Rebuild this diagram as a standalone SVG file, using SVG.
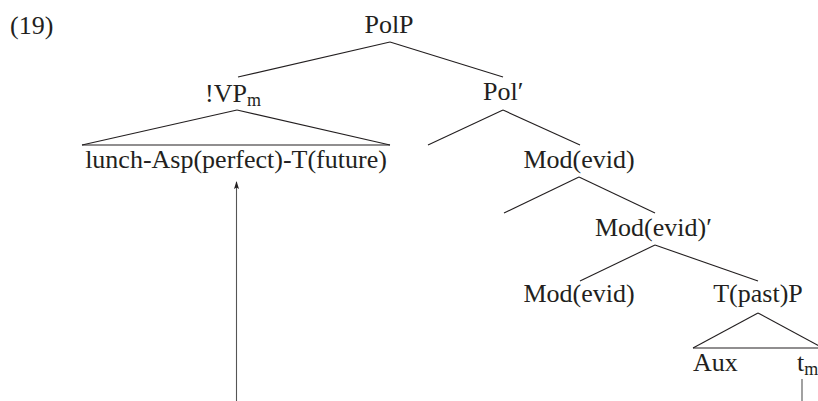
<svg xmlns="http://www.w3.org/2000/svg" width="818" height="401" viewBox="0 0 818 401">
<defs>
<style>
text{font-family:"Liberation Serif","Times New Roman",serif;font-size:26px;fill:#231f20}
.m{text-anchor:middle}
.sub{font-size:18px}
line{stroke:#231f20;stroke-width:1.1;fill:none}
</style>
<marker id="ah" viewBox="0 0 8 5" refX="7" refY="2.5" markerWidth="8" markerHeight="5" markerUnits="userSpaceOnUse" orient="auto">
<path d="M0,0 L8,2.5 L0,5 L1.5,2.5 Z" fill="#231f20"/>
</marker>
</defs>
<rect width="818" height="401" fill="#fff"/>
<text x="10" y="34">(19)</text>
<g id="connectors">
<line x1="390" y1="42" x2="238" y2="77"/>
<line x1="390" y1="42" x2="503" y2="77"/>
<line x1="237" y1="110" x2="82" y2="145"/>
<line x1="237" y1="110" x2="390" y2="145"/>
<line x1="82" y1="145" x2="390" y2="145"/>
<line x1="503" y1="110" x2="428" y2="145"/>
<line x1="503" y1="110" x2="580" y2="145"/>
<line x1="579" y1="177" x2="504" y2="213"/>
<line x1="579" y1="177" x2="655" y2="213"/>
<line x1="655" y1="245" x2="580" y2="281"/>
<line x1="655" y1="245" x2="758" y2="281"/>
<line x1="758" y1="313" x2="693" y2="348"/>
<line x1="758" y1="313" x2="823" y2="348"/>
<line x1="693" y1="348" x2="823" y2="348"/>
<line x1="802" y1="379" x2="802" y2="401" style="stroke:#555"/>
<line x1="236.5" y1="401" x2="236.5" y2="182" style="stroke:#555" marker-end="url(#ah)"/>
</g>
<g id="PolP"><text class="m" x="389" y="33">PolP</text></g>
<g id="VPm"><text x="205" y="102">!VP<tspan class="sub" dy="4">m</tspan></text></g>
<g id="lunch"><text class="m" x="236" y="168">lunch-Asp(perfect)-T(future)</text></g>
<g id="PolBar"><text x="483" y="100">Pol′</text></g>
<g id="ModEvid1"><text class="m" x="579" y="168">Mod(evid)</text></g>
<g id="ModEvidBar"><text x="595" y="236">Mod(evid)′</text></g>
<g id="ModEvid2"><text class="m" x="579" y="302">Mod(evid)</text></g>
<g id="TpastP"><text class="m" x="758" y="302">T(past)P</text></g>
<g id="Aux"><text x="693" y="371">Aux</text></g>
<g id="tm"><text x="797" y="371">t<tspan class="sub" dy="4">m</tspan></text></g>
</svg>
